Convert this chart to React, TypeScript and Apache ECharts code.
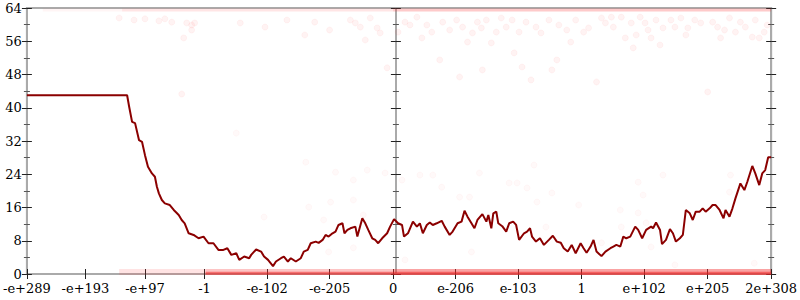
import React, { useEffect, useRef } from "react";
import * as echarts from "echarts";

// x domain: ordered position along the float axis (0 .. 750)
const xTickPos = [0, 59, 119, 179, 242, 305, 369, 432, 495, 559, 622, 686, 750];
const xTickLabels = ["-e+289", "-e+193", "-e+97", "-1", "-e-102", "-e-205", "0", "e-206", "e-103", "1", "e+102", "e+205", "2e+308"];
const centerX = 369;

const lineData: [number, number][] = [
  [0, 43], [101, 43], [103, 40.3], [106, 36.6], [109, 36.3], [113, 32.2], [116, 31.8], [119, 28.6],
  [122, 25.8], [126, 24.2], [129, 23.4], [131, 21.0], [133, 19.4], [136, 17.8], [139, 17.0], [144, 16.6],
  [148, 15.4], [153, 14.2], [156, 13.0], [159, 12.2], [163, 9.8], [168, 9.4], [173, 8.6], [178, 9.0],
  [183, 7.4], [188, 7.4], [193, 5.8], [198, 5.8], [202, 6.2], [206, 4.6], [211, 5.0], [214, 3.4],
  [219, 4.2], [224, 3.8], [226, 4.6], [231, 5.9], [236, 5.4], [239, 4.2], [243, 3.4], [248, 1.9],
  [251, 3.0], [256, 3.8], [259, 4.2], [263, 3.0], [266, 3.8], [271, 3.0], [276, 3.8], [279, 5.4],
  [283, 5.8], [286, 7.4], [291, 7.8], [294, 7.5], [298, 8.2], [301, 9.4], [304, 9.0], [308, 9.8],
  [311, 10.2], [314, 11.8], [318, 12.2], [320, 9.8], [323, 10.6], [326, 11.0], [331, 11.4], [333, 9.0],
  [338, 13.4], [341, 12.2], [344, 10.6], [348, 8.6], [351, 8.2], [354, 7.4], [358, 8.6], [363, 9.8],
  [366, 11.4], [370, 13.2], [374, 12.2], [378, 11.8], [380, 9.0], [384, 9.8], [389, 12.6], [393, 11.4],
  [396, 12.2], [399, 9.8], [403, 11.8], [406, 12.4], [409, 11.8], [413, 12.2], [418, 12.8], [421, 11.4],
  [426, 9.4], [429, 10.2], [434, 12.2], [438, 12.6], [441, 15.2], [444, 13.8], [448, 12.2], [451, 11.0],
  [454, 13.0], [459, 14.4], [463, 12.6], [465, 14.2], [468, 11.0], [470, 14.6], [473, 15.0], [475, 12.2],
  [479, 11.5], [483, 10.2], [486, 12.2], [490, 12.6], [493, 11.8], [496, 8.2], [501, 9.8], [504, 10.2],
  [507, 11.0], [509, 9.0], [513, 7.8], [517, 8.6], [521, 7.0], [526, 8.2], [530, 9.2], [534, 7.8],
  [538, 7.5], [541, 6.2], [545, 5.4], [549, 7.0], [553, 5.0], [558, 7.4], [561, 6.2], [564, 5.1],
  [568, 6.6], [571, 8.2], [574, 5.4], [579, 4.3], [583, 5.4], [588, 6.2], [591, 6.6], [594, 7.0],
  [598, 6.6], [601, 9.0], [604, 8.6], [608, 9.0], [613, 11.4], [616, 10.6], [620, 8.6], [624, 10.6],
  [629, 11.4], [631, 11.0], [634, 12.4], [638, 10.6], [640, 7.2], [644, 8.2], [648, 10.8], [651, 9.8],
  [654, 7.8], [658, 8.6], [661, 9.4], [664, 15.4], [668, 14.6], [671, 13.0], [674, 15.0], [678, 15.0],
  [681, 15.8], [684, 15.0], [688, 15.8], [691, 16.6], [694, 16.6], [698, 15.4], [702, 13.4], [704, 15.4],
  [708, 13.8], [711, 15.8], [714, 18.2], [719, 21.8], [723, 20.2], [726, 22.2], [731, 26.0], [734, 24.2],
  [738, 21.4], [741, 24.2], [744, 25.0], [747, 28.1], [750, 28.1],
];

const upperDots: [number, number][] = [
  [93, 61.6], [108, 61.1], [119, 61.4], [133, 60.9], [139, 61.4], [146, 60.6], [161, 60.4], [166, 59.9],
  [169, 60.4], [166, 58.7], [158, 56.8], [156, 43.3], [215, 60.4], [240, 59.4], [262, 61.1], [290, 60.6],
  [305, 58.7], [280, 57.5], [326, 61.1], [331, 60.4], [336, 59.4], [341, 56.3], [346, 61.6], [353, 59.2],
  [356, 58.0], [363, 49.6], [374, 58.2], [381, 60.6], [386, 59.9], [393, 61.8], [398, 56.8], [403, 59.9],
  [408, 58.2], [416, 51.5], [419, 60.6], [426, 58.7], [433, 61.1], [436, 47.4], [439, 59.4], [444, 55.8],
  [449, 58.0], [454, 60.6], [458, 59.2], [459, 49.1], [463, 61.1], [468, 55.6], [473, 58.2], [478, 61.6],
  [483, 59.4], [489, 61.1], [491, 53.2], [496, 58.2], [499, 49.8], [503, 60.6], [508, 46.7], [513, 59.4],
  [518, 58.0], [526, 61.1], [529, 49.1], [534, 51.5], [536, 59.9], [544, 58.7], [548, 55.8], [553, 61.1],
  [561, 58.2], [566, 59.2], [574, 46.2], [579, 61.6], [583, 60.4], [589, 61.8], [591, 59.4], [599, 61.8],
  [603, 56.8], [609, 60.4], [611, 54.4], [614, 57.5], [618, 61.8], [623, 60.4], [626, 58.7], [629, 56.8],
  [634, 61.1], [638, 55.1], [641, 59.2], [649, 61.1], [653, 59.4], [659, 61.6], [664, 57.5], [666, 59.2],
  [673, 61.1], [679, 60.4], [686, 43.8], [691, 60.6], [696, 59.4], [699, 56.8], [703, 58.7], [708, 61.6],
  [714, 58.2], [719, 60.6], [724, 59.4], [731, 57.0], [734, 61.1], [738, 56.8], [743, 58.2], [746, 59.9],
];

const middleDots: [number, number][] = [
  [281, 26.9], [311, 24.5], [343, 25.0], [361, 24.3], [329, 22.6], [284, 16.1], [306, 17.3], [329, 17.8],
  [339, 14.2], [299, 13.0], [304, 5.3], [329, 6.3], [239, 13.7], [378, 22.6], [396, 23.8], [409, 23.8],
  [418, 20.9], [436, 18.5], [446, 18.5], [456, 24.3], [486, 21.9], [494, 21.9], [504, 20.7], [511, 26.2],
  [529, 19.5], [514, 17.3], [523, 11.3], [448, 5.3], [381, 3.4], [556, 16.6], [616, 22.1], [641, 23.8],
  [621, 19.0], [598, 15.4], [616, 14.7], [624, 12.3], [599, 11.3], [709, 23.8], [708, 19.7], [579, 7.5],
  [629, 6.5], [653, 2.2], [733, 2.6], [211, 33.9],
];

// dense bands of points at the extremes (drawn as thick translucent strips)
const bottomBandFaint: [number, number][] = [[93, 0.5], [180, 0.5]];
const bottomBandMid: [number, number][] = [[180, 0.5], [369, 0.5]];
const bottomBandStrong: [number, number][] = [[369, 0.5], [750, 0.5]];
const bottomCore: [number, number][] = [[180, 0.2], [750, 0.2]];
const topBandFaint: [number, number][] = [[16, 63.5], [96, 63.5]];
const topBandMid: [number, number][] = [[96, 63.5], [369, 63.5]];
const topBandStrong: [number, number][] = [[369, 63.5], [750, 63.5]];

const FONT = "DejaVu Serif";

function band(data: [number, number][], color: string, width: number) {
  return {
    type: "line",
    data,
    showSymbol: false,
    silent: true,
    lineStyle: { color, width },
    z: 1,
  };
}

export default function App() {
  const ref = useRef<HTMLDivElement>(null);
  useEffect(() => {
    if (!ref.current) return;
    const chart = echarts.init(ref.current, undefined, { renderer: "svg" });
    const labelFor = (v: number) => {
      const i = xTickPos.findIndex((p) => Math.abs(p - v) < 0.5);
      return i >= 0 ? xTickLabels[i] : "";
    };
    const baseY = {
      type: "value",
      min: 0,
      max: 64,
      interval: 8,
      splitLine: { show: false },
      minorTick: { show: true, splitNumber: 2, length: 3, lineStyle: { color: "#555" } },
      axisTick: { show: true, length: 5, lineStyle: { color: "#222" } },
      axisLine: { show: true, lineStyle: { color: "#aaa", width: 2 } },
      axisLabel: { show: false },
    };
    const yAxes = [
      { ...baseY, position: "left", offset: 0, axisLabel: { show: true, fontFamily: FONT, fontSize: 13, color: "#000", margin: 5 } },
      { ...baseY, position: "left", offset: 0, axisTick: { ...baseY.axisTick, inside: true }, axisLine: { show: false } },
      { ...baseY, position: "left", offset: -centerX },
      { ...baseY, position: "left", offset: -centerX, axisTick: { ...baseY.axisTick, inside: true }, axisLine: { show: false } },
      { ...baseY, position: "right", offset: 0 },
      { ...baseY, position: "right", offset: 0, axisTick: { ...baseY.axisTick, inside: true }, axisLine: { show: false } },
    ];
    const baseX = {
      type: "value",
      min: 0,
      max: 750,
      position: "bottom",
      splitLine: { show: false },
    };
    chart.setOption({
      animation: false,
      grid: { left: 24, right: 26, top: 8, bottom: 26, show: true, borderColor: "#aaa", borderWidth: 2, backgroundColor: "transparent" },
      xAxis: [
        {
          ...baseX,
          axisLine: { show: true, lineStyle: { color: "#aaa", width: 2 } },
          axisTick: { show: true, customValues: xTickPos, length: 5, lineStyle: { color: "#222" } },
          axisLabel: { show: true, customValues: xTickPos, formatter: (v: number) => labelFor(v), fontFamily: FONT, fontSize: 13, color: "#000", margin: 8 },
        },
        {
          ...baseX,
          axisLine: { show: false },
          axisTick: { show: true, inside: true, customValues: xTickPos, length: 5, lineStyle: { color: "#222" } },
          axisLabel: { show: false, customValues: xTickPos },
        },
      ],
      yAxis: yAxes,
      series: [
        band(bottomBandFaint, "rgba(255,70,70,0.15)", 6),
        band(bottomBandMid, "rgba(250,60,60,0.3)", 6),
        band(bottomBandStrong, "rgba(245,50,50,0.45)", 6),
        band(bottomCore, "rgba(240,30,30,0.5)", 3),
        band(topBandFaint, "rgba(255,80,80,0.06)", 3),
        band(topBandMid, "rgba(255,70,70,0.14)", 3),
        band(topBandStrong, "rgba(250,50,50,0.26)", 3),
        {
          type: "scatter",
          data: upperDots,
          symbolSize: 6,
          silent: true,
          itemStyle: { color: "rgba(255,70,70,0.08)", borderColor: "rgba(255,60,60,0.06)", borderWidth: 1 },
          z: 2,
        },
        {
          type: "scatter",
          data: middleDots,
          symbolSize: 6,
          silent: true,
          itemStyle: { color: "rgba(255,70,70,0.04)", borderColor: "rgba(255,60,60,0.04)", borderWidth: 1 },
          z: 2,
        },
        {
          type: "line",
          data: lineData,
          showSymbol: false,
          silent: true,
          lineStyle: { color: "#8b0000", width: 2 },
          z: 5,
        },
      ],
    });
    return () => chart.dispose();
  }, []);
  return <div ref={ref} style={{ position: "absolute", left: 0, top: 0, width: 800, height: 300 }} />;
}
